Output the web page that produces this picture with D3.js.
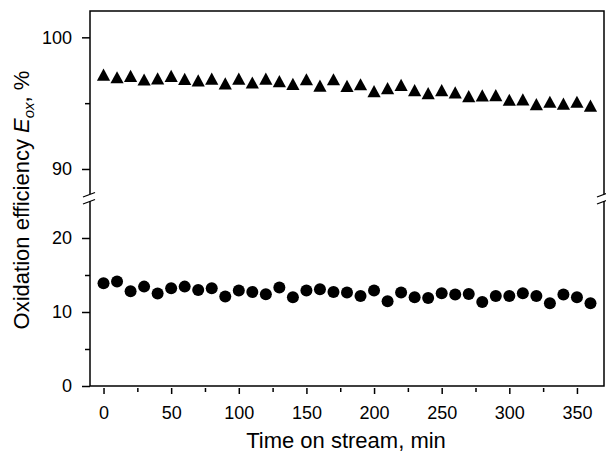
<!DOCTYPE html>
<html>
<head>
<meta charset="utf-8">
<script src="https://cdn.jsdelivr.net/npm/d3@7"></script>
<style>
  body { margin: 0; background: #fff; }
  text { font-family: "Liberation Sans", Arial, sans-serif; fill: #000; }
</style>
</head>
<body>
<div id="chart"></div>
<script>

// time on stream, min
var times = [0, 10, 20, 30, 40, 50, 60, 70, 80, 90, 100, 110, 120, 130, 140, 150, 160, 170, 180,
  190, 200, 210, 220, 230, 240, 250, 260, 270, 280, 290, 300, 310, 320, 330, 340, 350, 360];

// triangles (upper panel)
var upperVals = [97.16, 96.96, 97.06, 96.79, 96.87, 97.06, 96.83, 96.73, 96.86, 96.49, 96.86, 96.56,
  96.86, 96.66, 96.46, 96.81, 96.33, 96.81, 96.30, 96.43, 95.90, 96.13, 96.38, 95.98, 95.75, 95.98,
  95.81, 95.53, 95.58, 95.60, 95.25, 95.28, 94.92, 95.10, 94.95, 95.10, 94.80];

// circles (lower panel)
var lowerVals = [13.88, 14.11, 12.80, 13.43, 12.49, 13.20, 13.43, 12.97, 13.20, 12.08, 12.89, 12.70,
  12.39, 13.30, 11.99, 12.89, 13.07, 12.70, 12.62, 12.16, 12.89, 11.45, 12.62, 11.99, 11.89, 12.53,
  12.35, 12.43, 11.35, 12.16, 12.16, 12.53, 12.16, 11.18, 12.35, 11.99, 11.18];

var xTicks = [0, 50, 100, 150, 200, 250, 300, 350];
var xMinor = [25, 75, 125, 175, 225, 275, 325];
var upperTicks = [90, 100];
var upperMinor = [95];
var lowerTicks = [0, 10, 20];
var lowerMinor = [5, 15];

var box = { left: 90, right: 604, top: 11, bottom: 386, upBottom: 194, lowTop: 201 };

var svg = d3.select("#chart").append("svg")
  .attr("width", 606)
  .attr("height", 454);

var x = d3.scaleLinear().domain([-10, 370]).range([box.left, box.right]);
var yUp = d3.scaleLinear().domain([88.1, 102]).range([box.upBottom, box.top]);
var yLow = d3.scaleLinear().domain([0, 25]).range([box.bottom, box.lowTop]);

// frame, split in two at the break
var frame = svg.append("g").attr("stroke", "#000").attr("fill", "none");
frame.append("path").attr("stroke-width", 1.5)
  .attr("d", "M" + box.left + "," + box.upBottom + "V" + box.top + "H" + box.right + "V" + box.upBottom);
frame.append("path").attr("stroke-width", 1.5)
  .attr("d", "M" + box.left + "," + box.lowTop + "V" + box.bottom + "H" + box.right + "V" + box.lowTop);

// break marks
[box.left, box.right].forEach(function (bx) {
  frame.append("line").attr("stroke-width", 1.3)
    .attr("x1", bx - 7).attr("y1", box.upBottom + 3).attr("x2", bx + 5).attr("y2", box.upBottom - 1.5);
  frame.append("line").attr("stroke-width", 1.3)
    .attr("x1", bx - 7).attr("y1", box.lowTop + 3).attr("x2", bx + 5).attr("y2", box.lowTop - 1.5);
});

function styleAxis(g) {
  g.select(".domain").remove();
  g.selectAll(".tick line").attr("stroke", "#000").attr("stroke-width", 1.5);
  g.selectAll(".tick text").style("font-size", "18px").style("font-family", "'Liberation Sans', Arial, sans-serif");
}

// y axes
svg.append("g").attr("transform", "translate(" + box.left + ",0)")
  .call(d3.axisLeft(yUp).tickValues(upperTicks).tickSize(8).tickPadding(10).tickFormat(d3.format("d")))
  .call(styleAxis);
svg.append("g").attr("transform", "translate(" + box.left + ",0)")
  .call(d3.axisLeft(yUp).tickValues(upperMinor).tickSize(5).tickFormat(""))
  .call(styleAxis);
svg.append("g").attr("transform", "translate(" + box.left + ",0)")
  .call(d3.axisLeft(yLow).tickValues(lowerTicks).tickSize(8).tickPadding(10).tickFormat(d3.format("d")))
  .call(styleAxis);
svg.append("g").attr("transform", "translate(" + box.left + ",0)")
  .call(d3.axisLeft(yLow).tickValues(lowerMinor).tickSize(5).tickFormat(""))
  .call(styleAxis);

// x axis, ticks sit a bit below the frame line
svg.append("g").attr("transform", "translate(0," + (box.bottom + 2) + ")")
  .call(d3.axisBottom(x).tickValues(xTicks).tickSize(6).tickPadding(12).tickFormat(d3.format("d")))
  .call(styleAxis);
svg.append("g").attr("transform", "translate(0," + (box.bottom + 2) + ")")
  .call(d3.axisBottom(x).tickValues(xMinor).tickSize(4).tickFormat(""))
  .call(styleAxis);

// markers
var tri = "M0,-6.2L6.6,6L-6.6,6Z";
svg.append("g").selectAll("path")
  .data(times)
  .enter()
  .append("path")
  .attr("d", tri)
  .attr("fill", "#000")
  .attr("transform", function (d, i) {
    return "translate(" + x(d) + "," + yUp(upperVals[i]) + ")";
  });

svg.append("g").selectAll("circle")
  .data(times)
  .enter()
  .append("circle")
  .attr("cx", function (d) { return x(d); })
  .attr("cy", function (d, i) { return yLow(lowerVals[i]); })
  .attr("r", 6)
  .attr("fill", "#000");

// axis titles
svg.append("text")
  .attr("x", 346)
  .attr("y", 448)
  .attr("text-anchor", "middle")
  .style("font-size", "22px")
  .text("Time on stream, min");

var yt = svg.append("text")
  .attr("transform", "translate(29,200) rotate(-90)")
  .attr("text-anchor", "middle")
  .style("font-size", "22px");
yt.append("tspan").text("Oxidation efficiency ");
yt.append("tspan").style("font-style", "italic").text("E");
yt.append("tspan").style("font-style", "italic").style("font-size", "15px").attr("dy", 5).text("ox");
yt.append("tspan").attr("dy", -5).text(", %");

</script>
</body>
</html>
